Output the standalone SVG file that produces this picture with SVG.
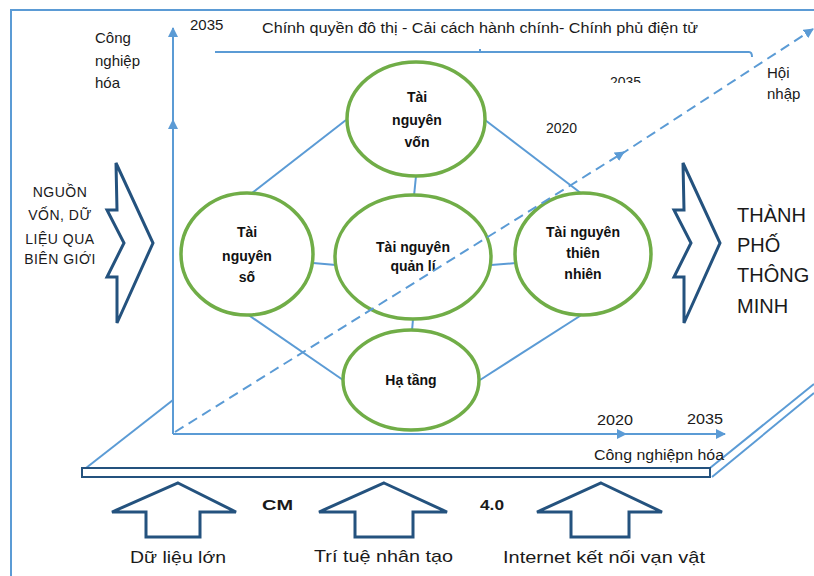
<svg xmlns="http://www.w3.org/2000/svg" width="814" height="576" viewBox="0 0 814 576">
<style>
.lb{stroke:#5b9bd5;stroke-width:2;fill:none}
.db{stroke:#24527e;stroke-width:3;fill:#fff;stroke-linejoin:miter}
.el{stroke:#70ad47;stroke-width:3.5;fill:#fff}
.t{font-family:"Liberation Sans",Arial,sans-serif;fill:#1a1a1a}
.b{font-family:"Liberation Sans",Arial,sans-serif;font-weight:bold;font-size:14px;fill:#111;text-anchor:middle}
.c{text-anchor:middle}
</style>
<defs>
<marker id="ah" viewBox="0 0 10 10" refX="9" refY="5" markerWidth="5" markerHeight="5" orient="auto" markerUnits="strokeWidth">
<path d="M0,0 L10,5 L0,10 Z" fill="#5b9bd5"/>
</marker>
<clipPath id="clipTop"><rect x="600" y="60" width="60" height="23"/></clipPath>
</defs>
<rect width="814" height="576" fill="#fff"/>

<g id="frame">
<path class="lb" d="M11,576 V10 H814"/>
<path class="lb" d="M215,52 H749 Q752,52 752,57"/>
<path class="lb" d="M480,52 V49"/>
<path class="lb" d="M86,468 L173,400"/>
<path class="lb" d="M710,468 L814,384"/>
<path class="lb" d="M712,477 L814,393"/>
<rect x="82" y="468" width="628" height="9" fill="#fff" stroke="#24527e" stroke-width="2"/>
</g>

<g id="axes">
<path class="lb" d="M173,434 V120" marker-end="url(#ah)"/>
<path class="lb" d="M173,125 V28" marker-end="url(#ah)"/>
<path class="lb" d="M173,434 H626" marker-end="url(#ah)"/>
<path class="lb" d="M620,434 H725" marker-end="url(#ah)"/>
</g>

<g id="connectors">
<line class="lb" x1="346" y1="120" x2="252" y2="193"/>
<line class="lb" x1="485" y1="120" x2="582" y2="194"/>
<line class="lb" x1="416" y1="176" x2="414" y2="196"/>
<line class="lb" x1="313" y1="263" x2="336" y2="265"/>
<line class="lb" x1="491" y1="265" x2="516" y2="263"/>
<line class="lb" x1="413" y1="319" x2="412" y2="331"/>
<line class="lb" x1="247" y1="314" x2="343" y2="380"/>
<line class="lb" x1="583" y1="314" x2="480" y2="380"/>
</g>

<g id="node-von">
<ellipse class="el" cx="416" cy="119" rx="69" ry="57"/>
<text class="b" x="417" y="102">Tài</text>
<text class="b" x="417" y="125">nguyên</text>
<text class="b" x="417" y="147">vốn</text>
</g>
<g id="node-so">
<ellipse class="el" cx="247" cy="254" rx="66" ry="61"/>
<text class="b" x="247" y="237">Tài</text>
<text class="b" x="247" y="261">nguyên</text>
<text class="b" x="247" y="282">số</text>
</g>
<g id="node-quanli">
<ellipse class="el" cx="413" cy="257" rx="78" ry="62"/>
<text class="b" x="413" y="252">Tài nguyên</text>
<text class="b" x="413" y="271">quản lí</text>
</g>
<g id="node-thiennhien">
<ellipse class="el" cx="583" cy="254" rx="68" ry="61"/>
<text class="b" x="583" y="237">Tài nguyên</text>
<text class="b" x="583" y="258">thiên</text>
<text class="b" x="583" y="279">nhiên</text>
</g>
<g id="node-hatang">
<ellipse class="el" cx="411" cy="380" rx="68" ry="50"/>
<text class="b" x="411" y="385">Hạ tầng</text>
</g>

<g id="dashed-axis">
<path class="lb" d="M175,432 L624,152" stroke-dasharray="10,6" stroke-width="2.3" marker-end="url(#ah)"/>
<path class="lb" d="M620,155 L813,29" stroke-dasharray="10,6" stroke-width="2.3" marker-end="url(#ah)"/>
</g>

<g id="arrow-left">
<polygon class="db" points="116,163 153,243 117,323 117,277 107,277 124,243 107,210 117,210"/>
</g>
<g id="arrow-right">
<polygon class="db" points="683,163 720,243 684,323 684,277 674,277 691,243 674,210 684,210"/>
</g>
<g id="arrow-up-1">
<polygon class="db" points="178,483 236,512 200,512 200,537 146,537 146,512 112,512"/>
</g>
<g id="arrow-up-2">
<polygon class="db" points="384,483 447,512 413,512 413,537 355,537 355,512 319,512"/>
</g>
<g id="arrow-up-3">
<polygon class="db" points="601,483 662,512 629,512 629,537 571,537 571,512 537,512"/>
</g>

<g id="labels">
<text class="t" x="190" y="30" font-size="15">2035</text>
<text class="t" x="262" y="33" font-size="14" textLength="436" lengthAdjust="spacingAndGlyphs">Chính quyền đô thị - Cải cách hành chính- Chính phủ điện tử</text>
<text class="t" x="95" y="43" font-size="15">Công</text>
<text class="t" x="95" y="66" font-size="15">nghiệp</text>
<text class="t" x="95" y="88" font-size="15">hóa</text>
<text class="t" x="610" y="87" font-size="14" clip-path="url(#clipTop)">2035</text>
<text class="t" x="546" y="133" font-size="14">2020</text>
<text class="t" x="767" y="78" font-size="15">Hội</text>
<text class="t" x="767" y="99" font-size="15">nhập</text>
<text class="t c" x="60" y="197" font-size="14" letter-spacing="0.5">NGUỒN</text>
<text class="t c" x="60" y="220" font-size="14" letter-spacing="0.5">VỐN, DỮ</text>
<text class="t c" x="60" y="244" font-size="14" letter-spacing="0.5">LIỆU QUA</text>
<text class="t c" x="60" y="264" font-size="14" letter-spacing="0.5">BIÊN GIỚI</text>
<text class="t" x="737" y="222" font-size="20" fill="#333">THÀNH</text>
<text class="t" x="737" y="252" font-size="20" fill="#333">PHỐ</text>
<text class="t" x="737" y="282" font-size="20" fill="#333">THÔNG</text>
<text class="t" x="737" y="313" font-size="20" fill="#333">MINH</text>
<text class="t" x="597" y="425" font-size="14" textLength="36" lengthAdjust="spacingAndGlyphs">2020</text>
<text class="t" x="687" y="424" font-size="14" textLength="36" lengthAdjust="spacingAndGlyphs">2035</text>
<text class="t" x="594" y="460" font-size="14" textLength="130" lengthAdjust="spacingAndGlyphs">Công nghiệpn hóa</text>
<text class="t" x="262" y="510" font-size="15" font-weight="bold" textLength="31" lengthAdjust="spacingAndGlyphs">CM</text>
<text class="t" x="480" y="510" font-size="15" font-weight="bold" textLength="24" lengthAdjust="spacingAndGlyphs">4.0</text>
<text class="t" x="130" y="563" font-size="17" textLength="96" lengthAdjust="spacingAndGlyphs">Dữ liệu lớn</text>
<text class="t" x="314" y="562" font-size="17" textLength="139" lengthAdjust="spacingAndGlyphs">Trí tuệ nhân tạo</text>
<text class="t" x="503" y="563" font-size="17" textLength="202" lengthAdjust="spacingAndGlyphs">Internet  kết nối vạn vật</text>
</g>
</svg>
